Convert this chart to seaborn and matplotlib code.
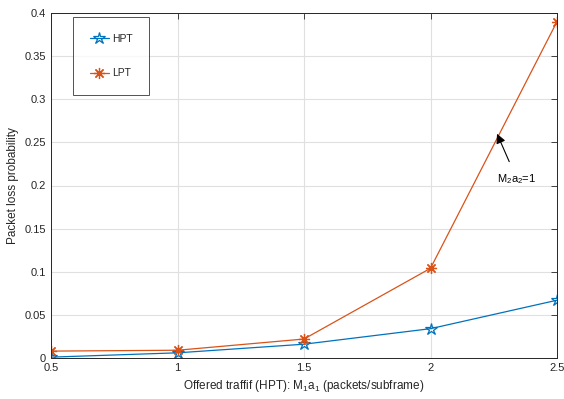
import matplotlib
matplotlib.use("Agg")
import matplotlib.pyplot as plt
import seaborn as sns
import pandas as pd

traffic = [0.5, 1.0, 1.5, 2.0, 2.5]
hpt_loss = [0.001, 0.006, 0.016, 0.034, 0.067]
lpt_loss = [0.008, 0.009, 0.022, 0.104, 0.390]
series_names = ["HPT", "LPT"]
x_ticks = [0.5, 1, 1.5, 2, 2.5]
y_ticks = [0, 0.05, 0.1, 0.15, 0.2, 0.25, 0.3, 0.35, 0.4]

sns.set_style("white")
plt.rcParams['font.family'] = ['Liberation Sans', 'DejaVu Sans']
plt.rcParams['mathtext.fontset'] = 'custom'
plt.rcParams['mathtext.rm'] = 'Liberation Sans'
plt.rcParams['mathtext.it'] = 'Liberation Sans'

df = pd.DataFrame({
    "x": traffic * 2,
    "y": hpt_loss + lpt_loss,
    "series": [series_names[0]] * len(traffic) + [series_names[1]] * len(traffic),
})

fig = plt.figure(figsize=(5.64, 3.99), dpi=100)
ax = fig.add_axes([51/564, 1 - 358/399, (557-51)/564, (358-13)/399])

colors = {"HPT": "#0072BD", "LPT": "#D95319"}
markers = {"HPT": "*", "LPT": (8, 2, 0)}
for name in series_names:
    sub = df[df.series == name]
    sns.lineplot(data=sub, x="x", y="y", ax=ax, color=colors[name], lw=0.9,
                 marker=markers[name], markersize=9 if name == "HPT" else 8,
                 markerfacecolor="none" if name == "HPT" else colors[name],
                 markeredgecolor=colors[name], markeredgewidth=0.9, label=name)

ax.set_xlim(0.5, 2.5)
ax.set_ylim(0, 0.4)
ax.set_xticks(x_ticks)
ax.set_xticklabels(["0.5", "1", "1.5", "2", "2.5"])
ax.set_yticks(y_ticks)
ax.set_yticklabels(["0", "0.05", "0.1", "0.15", "0.2", "0.25", "0.3", "0.35", "0.4"])
ax.grid(True, color="#e0e0e0", lw=0.8)
ax.tick_params(direction="in", length=4, width=0.6, labelsize=8, colors="#262626",
               top=True, right=True)
for s in ax.spines.values():
    s.set_color("#262626")
    s.set_linewidth(0.7)
ax.set_xlabel(r"Offered traffif (HPT): M$_1$a$_1$ (packets/subframe)", fontsize=8.5, color="#262626")
ax.set_ylabel("Packet loss probability", fontsize=8.5, color="#262626")

leg = ax.legend(loc="upper left", bbox_to_anchor=(0.044, 0.988), fontsize=7.5,
                frameon=True, fancybox=False, edgecolor="#262626",
                borderpad=1.6, labelspacing=2.35, handlelength=1.8, handletextpad=0.3,
                borderaxespad=0.0)
leg.get_frame().set_linewidth(0.7)

ax.annotate(r"M$_2$a$_2$=1", xy=(2.263, 0.26), xytext=(2.342, 0.207),
            fontsize=8, ha="center", va="center", color="black",
            arrowprops=dict(arrowstyle="-|>", color="black", lw=0.8,
                            mutation_scale=14, shrinkA=6, shrinkB=0))

fig.savefig("out.png", dpi=100)
